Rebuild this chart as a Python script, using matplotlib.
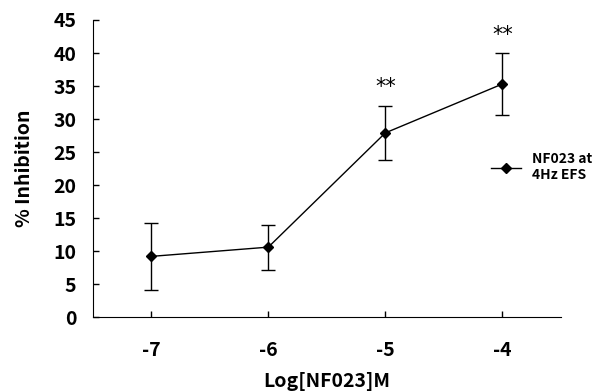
import matplotlib
matplotlib.use('Agg')
import matplotlib.pyplot as plt
from matplotlib.lines import Line2D

# данные
log_conc = [-7, -6, -5, -4]
inhibition = [9.2, 10.6, 27.9, 35.3]
sem = [5.1, 3.4, 4.1, 4.7]
signif = ['', '', '**', '**']

plt.rcParams['font.family'] = ['Noto Sans CJK KR', 'DejaVu Sans']
plt.rcParams['axes.unicode_minus'] = False

fig = plt.figure(figsize=(6.03, 3.92), dpi=100, facecolor='white')
ax = fig.add_axes([0.154, 0.191, 0.776, 0.758])

ax.errorbar(log_conc, inhibition, yerr=sem, color='black', lw=1, marker='D', ms=5,
            capsize=5, capthick=1, elinewidth=1)

# звёздочки над столбиками ошибок
for x, y, e, s in zip(log_conc, inhibition, sem, signif):
    if s:
        ax.text(x, y + e + 2.8, s, ha='center', va='center', fontsize=15,
                family='DejaVu Sans')

ax.set_xlim(-7.5, -3.5)
ax.set_ylim(0, 45)
ax.set_xticks(log_conc)
ax.set_yticks(range(0, 46, 5))
ax.spines['top'].set_visible(False)
ax.spines['right'].set_visible(False)
ax.tick_params(direction='in', length=4, width=1, labelsize=14)
ax.tick_params(axis='y', pad=12)
ax.tick_params(axis='x', pad=17)
for lab in ax.get_xticklabels() + ax.get_yticklabels():
    lab.set_fontweight('bold')

ax.set_xlabel('Log[NF023]M', fontsize=14, fontweight='bold', labelpad=9)
ax.set_ylabel('% Inhibition', fontsize=14, fontweight='bold', labelpad=14)

h = Line2D([], [], color='black', lw=1, marker='D', ms=5)
ax.legend([h], ['NF023 at\n4Hz EFS'], loc='center left', bbox_to_anchor=(0.85, 0.505),
          frameon=False, prop={'size': 10, 'weight': 'bold'}, handlelength=2.2,
          handletextpad=0.8, borderaxespad=0, borderpad=0)

fig.savefig('out.png', dpi=100)
